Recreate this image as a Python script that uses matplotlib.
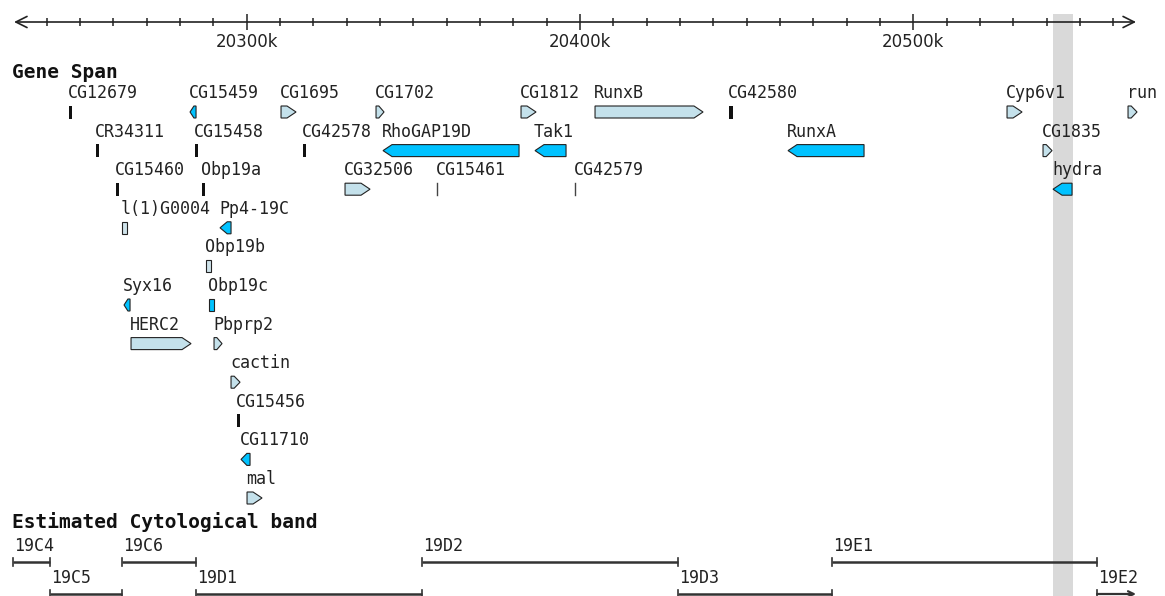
import numpy as np
import matplotlib
matplotlib.use("Agg")
from matplotlib import pyplot as plt
from matplotlib.patches import Polygon, Rectangle
from matplotlib.ticker import FixedLocator, FuncFormatter

# ---- data (positions in kb) ----
gene_names = ["CG12679", "CG15459", "CG1695", "CG1702", "CG1812", "RunxB", "CG42580", "Cyp6v1", "run",
              "CR34311", "CG15458", "CG42578", "RhoGAP19D", "Tak1", "RunxA", "CG1835",
              "CG15460", "Obp19a", "CG32506", "CG15461", "CG42579", "hydra",
              "l(1)G0004", "Pp4-19C",
              "Obp19b",
              "Syx16", "Obp19c",
              "HERC2", "Pbprp2",
              "cactin",
              "CG15456",
              "CG11710",
              "mal"]
gene_start = [20246.7, 20283.0, 20310.3, 20338.8, 20382.3, 20404.5, 20444.7, 20528.1, 20564.4,
              20254.8, 20284.5, 20316.9, 20340.9, 20386.5, 20462.4, 20538.9,
              20260.8, 20286.6, 20329.5, 20357.1, 20398.5, 20541.9,
              20262.6, 20292.0,
              20287.8,
              20263.2, 20288.7,
              20265.3, 20290.2,
              20295.3,
              20297.1,
              20298.3,
              20300.1]
gene_end = [20247.6, 20284.8, 20314.8, 20341.2, 20386.8, 20436.9, 20445.9, 20532.6, 20567.1,
            20255.4, 20285.4, 20317.8, 20381.7, 20395.8, 20485.2, 20541.6,
            20261.7, 20287.5, 20337.0, 20357.4, 20399.1, 20547.6,
            20264.1, 20295.3,
            20289.3,
            20265.0, 20290.2,
            20283.3, 20292.6,
            20298.0,
            20298.0,
            20301.0,
            20304.6]
# strand: 1 forward, -1 reverse, 0 unknown
gene_strand = [0, -1, 1, 1, 1, 1, 0, 1, 1,
               0, 0, 0, -1, -1, -1, 1,
               0, 0, 1, 0, 0, -1,
               1, -1,
               1,
               -1, -1,
               1, 1,
               1,
               0,
               -1,
               1]
# kind: bar = small black block, line = thin tick, box = no arrow head, arrow
gene_kind = ["bar", "arrow", "arrow", "arrow", "arrow", "arrow", "bar", "arrow", "arrow",
             "bar", "bar", "bar", "arrow", "arrow", "arrow", "arrow",
             "bar", "bar", "arrow", "line", "line", "arrow",
             "box", "arrow",
             "box",
             "arrow", "box",
             "arrow", "arrow",
             "arrow",
             "bar",
             "arrow",
             "arrow"]
gene_row = [0] * 9 + [1] * 7 + [2] * 6 + [3] * 2 + [4] + [5] * 2 + [6] * 2 + [7] + [8] + [9] + [10]

band_names = ["19C4", "19C5", "19C6", "19D1", "19D2", "19D3", "19E1", "19E2"]
band_start = [20230.0, 20241.1, 20262.5, 20284.8, 20352.6, 20429.3, 20475.6, 20555.1]
band_end = [20241.1, 20262.5, 20284.8, 20352.6, 20429.3, 20475.6, 20555.1, 20600.0]

view_start, view_end = 20230.2, 20566.8
highlight = (20541.9, 20547.9)

# ---- layout ----
W, H = 1165, 596
kb_per_px = 0.3
x0 = 20300 - 246.7 * kb_per_px
x1 = x0 + W * kb_per_px

fwd_color = "#c4e1eb"
rev_color = "#00c2ff"
edge = "#222222"
mono = "DejaVu Sans Mono"

fig = plt.figure(figsize=(W / 100, H / 100), dpi=100)
ax = fig.add_axes([0, 0, 1, 1])
ax.set_xlim(x0, x1)
ax.set_ylim(H, 0)
ax.axis("off")

# highlighted region
ax.add_patch(Rectangle((highlight[0], 14), highlight[1] - highlight[0], H, color="#d9d9d9", lw=0, zorder=0))

# ruler line with open arrow heads
ax.annotate("", xy=(view_start, 22), xytext=(view_end, 22),
            arrowprops=dict(arrowstyle="<->", lw=1.2, color=edge, shrinkA=0, shrinkB=0, mutation_scale=20))

rax = fig.add_axes([0, 1 - 22 / H, 1, 1e-4])
rax.set_xlim(x0, x1)
rax.set_ylim(0, 1)
for s in rax.spines.values():
    s.set_visible(False)
rax.set_yticks([])
rax.xaxis.set_major_locator(FixedLocator([20300, 20400, 20500]))
rax.xaxis.set_minor_locator(FixedLocator(np.arange(20240, 20561, 10)))
rax.xaxis.set_major_formatter(FuncFormatter(lambda v, p: "%dk" % v))
rax.tick_params(which="major", direction="inout", length=11, width=1.1, color=edge, pad=2.5,
                labelsize=12, labelcolor="#222222")
rax.tick_params(which="minor", direction="inout", length=6, width=1.1, color=edge)
rax.patch.set_visible(False)

# section titles
fig.text(12 / W, 1 - 72 / H, "Gene Span", fontsize=14, fontweight="bold", family=mono, va="center", color="#111111")
fig.text(12 / W, 1 - 522 / H, "Estimated Cytological band", fontsize=14, fontweight="bold", family=mono,
         va="center", color="#111111")

# genes
row0, row_step = 112, 38.6
half_h = 6
for name, s, e, st, kind, r in zip(gene_names, gene_start, gene_end, gene_strand, gene_kind, gene_row):
    yc = row0 + row_step * r
    ax.text(s - 0.3, yc - 19, name, family=mono, fontsize=12, va="center", ha="left", color="#222222")
    if kind == "bar":
        w = max(e - s, 3 * kb_per_px)
        ax.add_patch(Rectangle((s, yc - 6.5), w, 13, facecolor="#111111", edgecolor="none", zorder=3))
    elif kind == "line":
        ax.plot([s, s], [yc - 6, yc + 6], color="#444444", lw=1.0, zorder=3)
    elif kind == "box":
        fc = rev_color if st < 0 else "#cfe3ea"
        ax.add_patch(Rectangle((s, yc - half_h), e - s, 2 * half_h, facecolor=fc, edgecolor=edge, lw=0.8, zorder=3))
    else:
        fc = rev_color if st < 0 else fwd_color
        tip = min(9 * kb_per_px, 0.65 * (e - s))
        if st > 0:
            pts = [(s, yc - half_h), (e - tip, yc - half_h), (e, yc), (e - tip, yc + half_h), (s, yc + half_h)]
        else:
            pts = [(e, yc - half_h), (s + tip, yc - half_h), (s, yc), (s + tip, yc + half_h), (e, yc + half_h)]
        ax.add_patch(Polygon(pts, closed=True, facecolor=fc, edgecolor=edge, lw=0.8, zorder=3))

# cytological bands
band_label_y = [546, 578]
band_line_y = [562, 594]
for i, (name, s, e) in enumerate(zip(band_names, band_start, band_end)):
    r = i % 2
    yl = band_line_y[r]
    ax.text(s + 0.3, band_label_y[r], name, family=mono, fontsize=12, va="center", ha="left", color="#222222")
    if e > view_end:
        ax.annotate("", xy=(view_end, yl), xytext=(s, yl),
                    arrowprops=dict(arrowstyle="->", lw=1.6, color="#333333", shrinkA=0, shrinkB=0,
                                    mutation_scale=10))
        ax.plot([s, s], [yl - 4, yl + 4], color="#333333", lw=1.2)
    else:
        ax.plot([s, e], [yl, yl], color="#333333", lw=1.8, solid_capstyle="butt")
        ax.plot([s, s], [yl - 4, yl + 4], color="#333333", lw=1.2)
        ax.plot([e, e], [yl - 4, yl + 4], color="#333333", lw=1.2)

fig.savefig("out.png", dpi=100)
